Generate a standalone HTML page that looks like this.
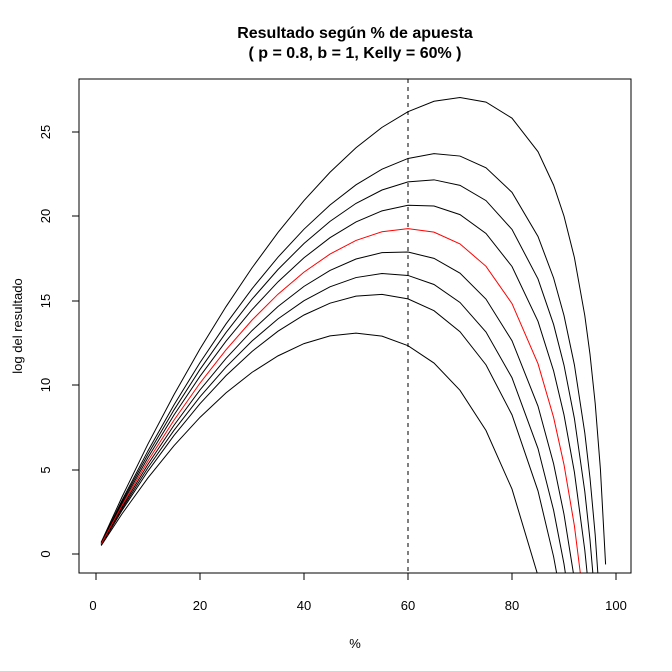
<!DOCTYPE html>
<html><head><meta charset="utf-8">
<style>body{margin:0;background:#fff}svg{display:block}</style></head>
<body>
<svg width="672" height="671" xmlns="http://www.w3.org/2000/svg" font-family="Liberation Sans, Arial, sans-serif">
<rect width="672" height="671" fill="#fff"/>
<defs><clipPath id="c"><rect x="79" y="79" width="552" height="494"/></clipPath></defs>
<text x="355" y="38" text-anchor="middle" font-size="16" font-weight="bold">Resultado según % de apuesta</text>
<text x="355" y="58" text-anchor="middle" font-size="16" font-weight="bold">( p = 0.8, b = 1, Kelly = 60% )</text>
<rect x="79" y="79" width="552" height="494" fill="none" stroke="#000" stroke-width="1"/>
<g clip-path="url(#c)">
<g transform="matrix(5.2 0 0 -16.88 96 554)" fill="none" stroke="#000">
<path vector-effect="non-scaling-stroke" d="M1,0.495 L5,2.377 L10,4.514 L15,6.419 L20,8.096 L25,9.544 L30,10.760 L35,11.738 L40,12.465 L45,12.921 L50,13.082 L55,12.906 L60,12.343 L65,11.313 L70,9.698 L75,7.314 L80,3.848 L85,-1.289"/>
<path vector-effect="non-scaling-stroke" d="M1,0.535 L5,2.577 L10,4.916 L15,7.024 L20,8.906 L25,10.565 L30,11.998 L35,13.200 L40,14.159 L45,14.860 L50,15.279 L55,15.380 L60,15.115 L65,14.414 L70,13.167 L75,11.206 L80,8.243 L85,3.736 L88,-0.158 L90,-3.5"/>
<path vector-effect="non-scaling-stroke" d="M1,0.555 L5,2.677 L10,5.116 L15,7.326 L20,9.312 L25,11.076 L30,12.617 L35,13.931 L40,15.006 L45,15.829 L50,16.377 L55,16.616 L60,16.502 L65,15.965 L70,14.902 L75,13.152 L80,10.440 L85,6.248 L88,2.593 L90,-0.593 L92,-4.7"/>
<path vector-effect="non-scaling-stroke" d="M1,0.575 L5,2.777 L10,5.317 L15,7.628 L20,9.717 L25,11.587 L30,13.236 L35,14.662 L40,15.854 L45,16.799 L50,17.476 L55,17.853 L60,17.888 L65,17.515 L70,16.636 L75,15.098 L80,12.637 L85,8.760 L88,5.345 L90,2.352 L92,-1.506"/>
<path vector-effect="non-scaling-stroke" d="M1,0.615 L5,2.977 L10,5.718 L15,8.233 L20,10.528 L25,12.608 L30,14.474 L35,16.123 L40,17.548 L45,18.737 L50,19.673 L55,20.327 L60,20.660 L65,20.617 L70,20.106 L75,18.990 L80,17.032 L85,13.785 L88,10.848 L90,8.241 L92,4.850 L94,0.223 L95,-2.825"/>
<path vector-effect="non-scaling-stroke" d="M1,0.635 L5,3.078 L10,5.919 L15,8.535 L20,10.934 L25,13.119 L30,15.093 L35,16.854 L40,18.396 L45,19.707 L50,20.772 L55,21.563 L60,22.047 L65,22.167 L70,21.840 L75,20.936 L80,19.229 L85,16.297 L88,13.599 L90,11.185 L92,8.028 L94,3.699 L95,0.839 L96,-2.759"/>
<path vector-effect="non-scaling-stroke" d="M1,0.655 L5,3.178 L10,6.120 L15,8.837 L20,11.339 L25,13.630 L30,15.712 L35,17.585 L40,19.243 L45,20.676 L50,21.870 L55,22.800 L60,23.433 L65,23.718 L70,23.575 L75,22.882 L80,21.426 L85,18.810 L88,16.351 L90,14.130 L92,11.206 L94,7.175 L95,4.502 L96,1.133 L97,-3.335"/>
<path vector-effect="non-scaling-stroke" d="M1,0.695 L5,3.378 L10,6.521 L15,9.442 L20,12.150 L25,14.652 L30,16.951 L35,19.047 L40,20.938 L45,22.615 L50,24.068 L55,25.274 L60,26.206 L65,26.819 L70,27.044 L75,26.773 L80,25.821 L85,23.834 L88,21.854 L90,20.018 L92,17.562 L94,14.128 L95,11.830 L96,8.917 L97,5.034 L98,-0.617"/>
<path vector-effect="non-scaling-stroke" stroke="#f00" d="M1,0.595 L5,2.877 L10,5.518 L15,7.930 L20,10.123 L25,12.098 L30,13.855 L35,15.392 L40,16.701 L45,17.768 L50,18.575 L55,19.090 L60,19.274 L65,19.066 L70,18.371 L75,17.044 L80,14.834 L85,11.273 L88,8.096 L90,5.296 L92,1.672 L94,-3.25"/>
</g>
</g>
<line x1="408" y1="79" x2="408" y2="573" stroke="#000" stroke-dasharray="4,4"/>
<g stroke="#000">
<line x1="96" y1="573" x2="616" y2="573"/>
<line x1="96" y1="573" x2="96" y2="580"/><line x1="200" y1="573" x2="200" y2="580"/>
<line x1="304" y1="573" x2="304" y2="580"/><line x1="408" y1="573" x2="408" y2="580"/>
<line x1="512" y1="573" x2="512" y2="580"/><line x1="616" y1="573" x2="616" y2="580"/>
<line x1="79" y1="554" x2="79" y2="132"/>
<line x1="72" y1="554" x2="79" y2="554"/><line x1="72" y1="470" x2="79" y2="470"/>
<line x1="72" y1="385" x2="79" y2="385"/><line x1="72" y1="301" x2="79" y2="301"/>
<line x1="72" y1="216" x2="79" y2="216"/><line x1="72" y1="132" x2="79" y2="132"/>
</g>
<g font-size="13" text-anchor="middle">
<text x="93" y="610">0</text><text x="200" y="610">20</text><text x="304" y="610">40</text>
<text x="408" y="610">60</text><text x="512" y="610">80</text><text x="616" y="610">100</text>
<text x="355" y="648">%</text>
<g transform="translate(50,0)">
<text transform="translate(0,554) rotate(-90)">0</text>
<text transform="translate(0,470) rotate(-90)">5</text>
<text transform="translate(0,385) rotate(-90)">10</text>
<text transform="translate(0,301) rotate(-90)">15</text>
<text transform="translate(0,216) rotate(-90)">20</text>
<text transform="translate(0,132) rotate(-90)">25</text>
</g>
<text transform="translate(22,326) rotate(-90)">log del resultado</text>
</g>
</svg>
</body></html>
